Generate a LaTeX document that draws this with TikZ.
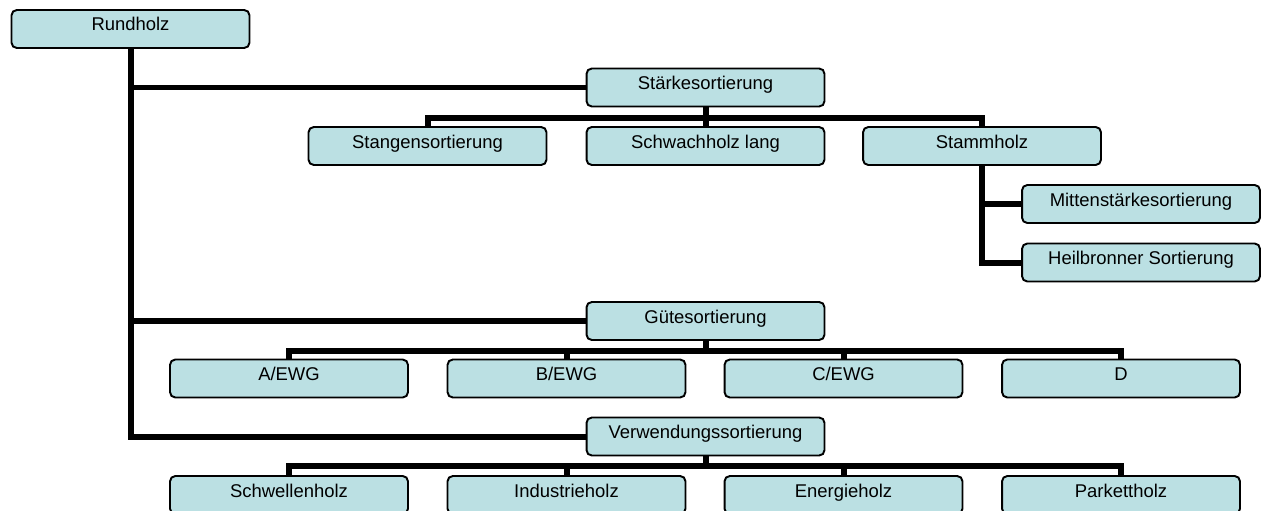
\documentclass[tikz,border=0pt]{standalone}
\usepackage{fontspec}
\setmainfont{Liberation Sans}
\definecolor{boxfill}{RGB}{187,224,227}
\begin{document}
\begin{tikzpicture}[x=0.02cm,y=-0.02cm,
    box/.style={draw,line width=1.1pt,rounded corners=3pt,fill=boxfill,
      minimum width=4.76cm,inner xsep=0pt,inner ysep=0pt,
      text height=0.42cm,text depth=0.34cm,
      font=\fontsize{10.5pt}{12pt}\selectfont},
    link/.style={line width=0.12cm}]
    \useasboundingbox (0,0) rectangle (1263,510);
    % root and the three sortings
    \node[box] (rund) at (130.5,29){Rundholz};
    \node[box] (staerke) at (705.5,87.5){Stärkesortierung};
    \node[box] (guete) at (705.5,321){Gütesortierung};
    \node[box] (verw) at (705.5,436.5){Verwendungssortierung};
    % Staerke
    \node[box] (stangen) at (427.5,146){Stangensortierung};
    \node[box] (schwach) at (705.5,146){Schwachholz lang};
    \node[box] (stamm) at (982,146){Stammholz};
    \node[box] (mitten) at (1141,204){Mittenstärkesortierung};
    \node[box] (heil) at (1141,262.5){Heilbronner Sortierung};
    % Guete
    \node[box] (a) at (289,378.5){A/EWG};
    \node[box] (b) at (566.5,378.5){B/EWG};
    \node[box] (c) at (843.5,378.5){C/EWG};
    \node[box] (d) at (1121,378.5){D};
    % Verwendung
    \node[box] (schwellen) at (289,495){Schwellenholz};
    \node[box] (industrie) at (566.5,495){Industrieholz};
    \node[box] (energie) at (843.5,495){Energieholz};
    \node[box] (parkett) at (1121,495){Parkettholz};
    % connectors
    \foreach \n in {staerke,guete,verw}
      \draw[link](rund.south) |- (\n.west);
    \foreach \n in {stangen,schwach,stamm}
      \draw[link](staerke.south) -- ++(0,11) -| (\n.north);
    \foreach \n in {mitten,heil}
      \draw[link](stamm.south) |- (\n.west);
    \foreach \n in {a,b,c,d}
      \draw[link](guete.south) -- ++(0,10) -| (\n.north);
    \foreach \n in {schwellen,industrie,energie,parkett}
      \draw[link](verw.south) -- ++(0,10) -| (\n.north);
  \end{tikzpicture}
\end{document}
